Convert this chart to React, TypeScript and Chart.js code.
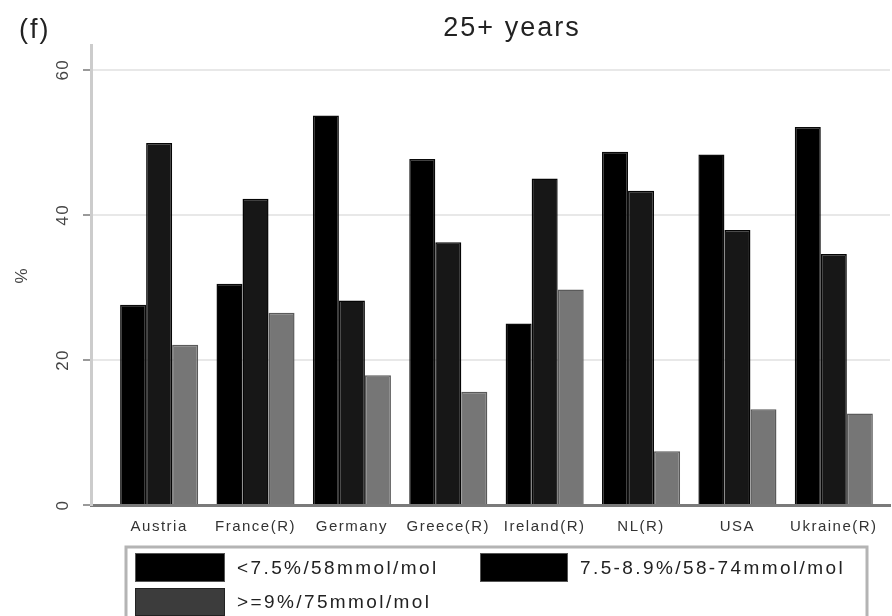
import React, { useEffect, useRef } from 'react';
import { Chart, registerables } from 'chart.js';

Chart.register(...registerables);

const categories = ['Austria', 'France(R)', 'Germany', 'Greece(R)', 'Ireland(R)', 'NL(R)', 'USA', 'Ukraine(R)'];
const seriesLabels = ['<7.5%/58mmol/mol', '7.5-8.9%/58-74mmol/mol', '>=9%/75mmol/mol'];
const below75 = [27.6, 30.5, 53.7, 47.7, 25.0, 48.7, 48.3, 52.1];
const from75to89 = [49.9, 42.2, 28.2, 36.2, 45.0, 43.3, 37.9, 34.6];
const atLeast9 = [22.1, 26.5, 17.9, 15.6, 29.7, 7.4, 13.2, 12.6];
const yTicks = [0, 20, 40, 60];
const chartTitle = '25+ years';
const panelLabel = '(f)';
const yTitle = '%';

const FONT = '"Liberation Sans", Arial, sans-serif';
const barFill = ['#000000', '#171717', '#767676'];
const barBorder = ['#0a0a0a', '#050505', '#5a5a5a'];
const legendFill = ['#000000', '#000000', '#3c3c3c'];

const decor = {
  id: 'decor',
  beforeDraw(chart: any) {
    const ctx = chart.ctx;
    ctx.save();
    ctx.fillStyle = '#ffffff';
    ctx.fillRect(0, 0, chart.width, chart.height);
    ctx.restore();
    ctx.letterSpacing = '1.5px';
  },
  afterDraw(chart: any) {
    const ctx = chart.ctx;
    ctx.save();
    // titles
    ctx.letterSpacing = '2px';
    ctx.font = `27px ${FONT}`;
    ctx.fillStyle = '#222';
    ctx.textBaseline = 'alphabetic';
    ctx.textAlign = 'center';
    ctx.fillText(chartTitle, 512, 36);
    ctx.textAlign = 'left';
    ctx.fillText(panelLabel, 19, 38);

    // y title
    ctx.letterSpacing = '0px';
    ctx.font = `17px ${FONT}`;
    ctx.fillStyle = '#444';
    ctx.save();
    ctx.translate(22, 276);
    ctx.rotate(-Math.PI / 2);
    ctx.textAlign = 'center';
    ctx.textBaseline = 'middle';
    ctx.fillText(yTitle, 0, 0);
    ctx.restore();

    // y tick labels (rotated)
    const ys = chart.scales.y;
    ctx.letterSpacing = '1.5px';
    ctx.font = `17px ${FONT}`;
    ctx.fillStyle = '#444';
    ys.ticks.forEach((t: any) => {
      const y = ys.getPixelForValue(t.value);
      ctx.save();
      ctx.translate(63, y);
      ctx.rotate(-Math.PI / 2);
      ctx.textAlign = 'center';
      ctx.textBaseline = 'middle';
      ctx.fillText(String(t.value), 0, 0);
      ctx.restore();
    });

    // legend box
    ctx.letterSpacing = '0px';
    ctx.strokeStyle = '#b4b4b4';
    ctx.lineWidth = 3;
    ctx.strokeRect(126, 547, 741, 100);
    const pos = [
      [135, 553, 90, 29],
      [480, 553, 88, 29],
      [135, 588, 90, 28],
    ];
    ctx.font = `19px ${FONT}`;
    ctx.letterSpacing = '2.4px';
    chart.data.datasets.forEach((ds: any, i: number) => {
      const [x, y, w, h] = pos[i];
      ctx.fillStyle = legendFill[i];
      ctx.fillRect(x, y, w, h);
      ctx.strokeStyle = i === 2 ? '#222' : '#555';
      ctx.lineWidth = 1;
      ctx.strokeRect(x + 0.5, y + 0.5, w - 1, h - 1);
      ctx.fillStyle = '#222';
      ctx.textAlign = 'left';
      ctx.textBaseline = 'middle';
      ctx.fillText(ds.label, x + w + 12, y + h / 2 + 1);
    });
    ctx.restore();
  },
};

export default function App() {
  const ref = useRef<HTMLCanvasElement | null>(null);
  useEffect(() => {
    if (!ref.current) return;
    const series = [below75, from75to89, atLeast9];
    const chart = new Chart(ref.current, {
      type: 'bar',
      data: {
        datasets: series.map((vals, si) => ({
          label: seriesLabels[si],
          data: vals.map((v, i) => ({ x: i, y: v })),
          backgroundColor: barFill[si],
          borderColor: barBorder[si],
          borderWidth: 1.5,
          categoryPercentage: 0.81,
          barPercentage: 1.0,
        })),
      },
      options: {
        responsive: false,
        animation: false,
        devicePixelRatio: 1,
        layout: { padding: { left: 0, top: 45, right: 2, bottom: 0 } },
        plugins: { legend: { display: false }, title: { display: false }, tooltip: { enabled: false } },
        scales: {
          x: {
            type: 'linear',
            offset: false,
            min: -0.707,
            max: 7.583,
            z: 1,
            afterBuildTicks: (s: any) => {
              s.ticks = categories.map((_, i) => ({ value: i }));
            },
            afterFit: (s: any) => {
              s.height = 111;
            },
            grid: { display: false, drawTicks: false, tickLength: 0, offset: false },
            border: { display: true, color: '#7a7a7a', width: 3 },
            ticks: {
              autoSkip: false,
              maxRotation: 0,
              minRotation: 0,
              padding: 13,
              color: '#333',
              font: { family: FONT, size: 15 },
              callback: (v: any) => categories[Math.round(Number(v))] ?? '',
            },
          },
          y: {
            type: 'linear',
            min: 0,
            max: 63.4,
            afterBuildTicks: (s: any) => {
              s.ticks = yTicks.map((v) => ({ value: v }));
            },
            afterFit: (s: any) => {
              s.width = 91;
            },
            grid: {
              color: (c: any) => (c.tick && c.tick.value === 0 ? 'rgba(0,0,0,0)' : '#e8e8e8'),
              lineWidth: 2,
              drawTicks: true,
              tickLength: 8,
              tickColor: '#9a9a9a',
              tickWidth: 2,
            },
            border: { display: true, color: '#cccccc', width: 3 },
            ticks: { display: false },
          },
        },
      },
      plugins: [decor],
    } as any);
    return () => chart.destroy();
  }, []);
  return (
    <div style={{ position: 'fixed', left: 0, top: 0, width: 892, height: 616, background: '#fff' }}>
      <canvas ref={ref} width={892} height={616} style={{ display: 'block', width: 892, height: 616 }} />
    </div>
  );
}
